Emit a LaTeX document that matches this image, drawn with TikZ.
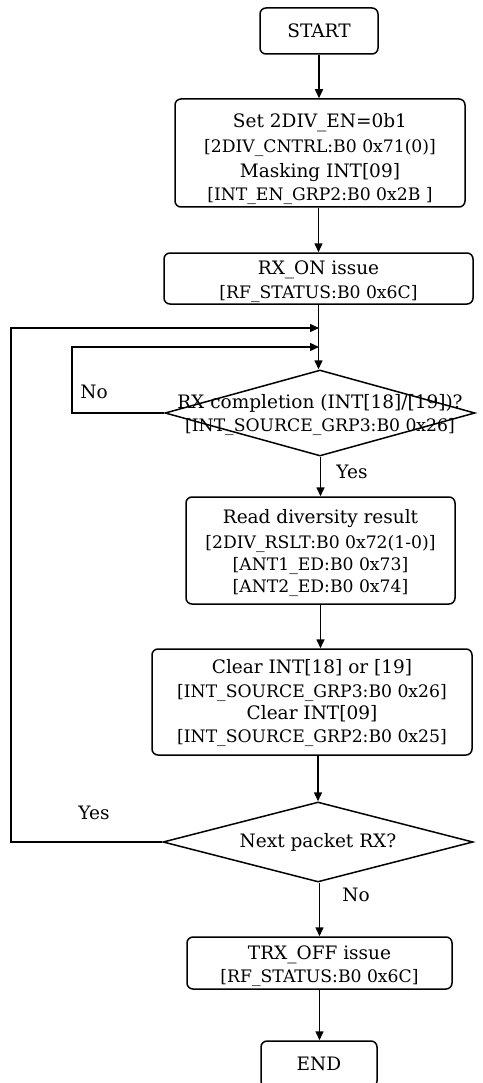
\documentclass[tikz,border=0pt]{standalone}
\usepackage{fontspec}
\setmainfont{DejaVu Serif}
\usetikzlibrary{shapes.geometric,arrows.meta}
\newcommand\lgf{\fontsize{18.5}{21}\selectfont}
\newcommand\smf{\fontsize{17.2}{21}\selectfont}
\begin{document}
\begin{tikzpicture}[x=1pt,y=-1pt,line width=1.5pt,
  box/.style={draw,rounded corners=6pt,inner sep=0pt},
  txt/.style={align=center,inner sep=0pt,font=\smf},
  dec/.style={draw,diamond,inner sep=0pt},
  arr/.style={-{Triangle[length=9pt,width=8pt]}},
  lbl/.style={font=\lgf,inner sep=0pt}]
\useasboundingbox (0,0) rectangle (482,1083);
\node[box,minimum width=118pt,minimum height=46pt,font=\lgf] (start) at (319,31) {START};
\node[box,minimum width=290pt,minimum height=108pt,
  label={[txt,yshift=-6.5pt]center:{\lgf Set 2DIV\_EN=0b1}\\[4pt]
   [2DIV\_CNTRL:B0 0x71(0)]\\[4pt]
   {\lgf Masking INT[09]}\\[2pt]
   [INT\_EN\_GRP2:B0 0x2B ]}] (set) at (320,153) {};
\node[box,minimum width=309pt,minimum height=51pt,
  label={[txt,yshift=-3.5pt]center:{\lgf RX\_ON issue}\\[3pt] [RF\_STATUS:B0 0x6C]}] (rxon) at (318.5,278.5) {};
\node[dec,minimum width=310pt,minimum height=86pt,
  label={[txt,yshift=-2pt]center:{\lgf RX completion (INT[18]/[19])?}\\[2pt] [INT\_SOURCE\_GRP3:B0 0x26]}] (d1) at (320,413) {};
\node[box,minimum width=269pt,minimum height=107pt,
  label={[txt,yshift=-2pt]center:{\lgf Read diversity result}\\[4pt]
   [2DIV\_RSLT:B0 0x72(1-0)]\\[1pt]
   [ANT1\_ED:B0 0x73]\\[1pt]
   [ANT2\_ED:B0 0x74]}] (read) at (320.5,550.5) {};
\node[box,minimum width=320pt,minimum height=106pt,
  label={[txt,yshift=-0.5pt]center:{\lgf Clear INT[18] or [19]}\\[3pt]
   [INT\_SOURCE\_GRP3:B0 0x26]\\[1pt]
   {\lgf Clear INT[09]}\\[2pt]
   [INT\_SOURCE\_GRP2:B0 0x25]}] (clear) at (312,702) {};
\node[dec,minimum width=310pt,minimum height=80pt,
  label={[font=\lgf,inner sep=0pt]center:Next packet RX?}] (d2) at (318,842) {};
\node[box,minimum width=265pt,minimum height=52pt,
  label={[txt,yshift=-3pt]center:{\lgf TRX\_OFF issue}\\[2pt] [RF\_STATUS:B0 0x6C]}] (trx) at (319.5,963) {};
\node[box,minimum width=116pt,minimum height=46pt,font=\lgf] (end) at (319,1064) {END};
\coordinate (j1) at (319,328);
\coordinate (j2) at (319,347);
\draw[arr] (start.south) -- (start.south |- set.north);
\draw[arr] (set.south -| rxon.north) -- (rxon.north);
\draw[arr] (rxon.south) -- (rxon.south |- d1.north);
\draw[arr] (d1.south -| read.north) -- (read.north);
\draw[arr] (read.south) -- (read.south |- clear.north);
\draw[arr] (clear.south -| d2.north) -- (d2.north);
\draw[arr] (d2.south -| trx.north) -- (trx.north);
\draw[arr] (trx.south) -- (trx.south |- end.north);
\draw[arr] (d1.west) -- (72,413) -- (72,347) -- (j2);
\draw[arr] (d2.west) -- (11,842) -- (11,328) -- (j1);
\node[lbl] (no1) at (94,392) {No};
\node[lbl] (yes1) at (352,472) {Yes};
\node[lbl] (yes2) at (94,813) {Yes};
\node[lbl] (no2) at (356,895) {No};
\end{tikzpicture}
\end{document}
